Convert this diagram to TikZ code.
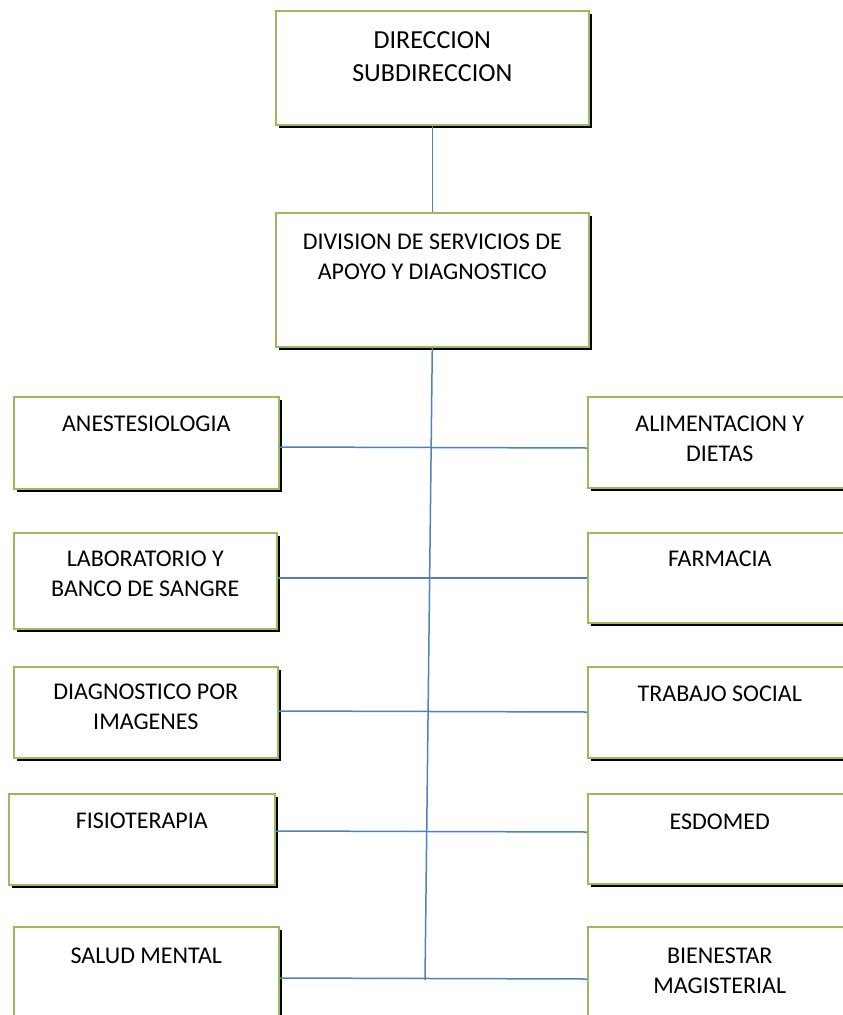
\documentclass[tikz,border=0pt]{standalone}
\usepackage{fontspec}
\setmainfont{Carlito}
\usetikzlibrary{shadows}
\definecolor{boxgreen}{HTML}{9BBB59}
\definecolor{linkblue}{HTML}{4F81BD}

% box contents: width, height, gap above first line, text
\newcommand{\cell}[4]{\parbox[c][#2pt][t]{#1pt}{\centering\vspace*{#3pt}#4\par}}

\tikzset{
  unitbox/.style={draw=boxgreen, line width=1.6pt, fill=white, inner sep=0pt,
    anchor=north west, font=\fontsize{24}{30}\selectfont,
    drop shadow={shadow xshift=3pt, shadow yshift=-3pt, opacity=1, fill=black}},
  link/.style={draw=linkblue, line width=1.5pt}
}

\begin{document}
\begin{tikzpicture}[x=1pt, y=-1pt]
  \useasboundingbox (0,0) rectangle (843,1015);
  \clip (0,0) rectangle (843,1015);

  % head
  \node[unitbox, font=\fontsize{26}{33}\selectfont] (dir) at (275,10) {\cell{313}{114}{21}{DIRECCION\\SUBDIRECCION}};
  \node[unitbox] (div) at (275,212) {\cell{313}{134}{21}{DIVISION DE SERVICIOS DE\\APOYO Y DIAGNOSTICO}};

  % left column
  \node[unitbox] (anest) at (13,396) {\cell{265}{92}{19}{ANESTESIOLOGIA}};
  \node[unitbox] (lab) at (13,532) {\cell{263}{96}{18}{LABORATORIO Y\\BANCO DE SANGRE}};
  \node[unitbox] (img) at (13,666) {\cell{264}{91}{17}{DIAGNOSTICO POR\\IMAGENES}};
  \node[unitbox] (fisio) at (8,793) {\cell{266}{91}{19}{FISIOTERAPIA}};
  \node[unitbox] (salud) at (13,926) {\cell{265}{92}{21}{SALUD MENTAL}};

  % right column
  \node[unitbox] (alim) at (587,396) {\cell{264}{91}{19}{ALIMENTACION Y\\DIETAS}};
  \node[unitbox] (farm) at (587,532) {\cell{264}{90}{18}{FARMACIA}};
  \node[unitbox] (social) at (587,666) {\cell{264}{91}{19}{TRABAJO SOCIAL}};
  \node[unitbox] (esdomed) at (587,793) {\cell{264}{90}{20}{ESDOMED}};
  \node[unitbox] (bien) at (587,926) {\cell{264}{92}{21}{BIENESTAR\\MAGISTERIAL}};

  % connectors
  \coordinate (base) at (425,980);
  \draw[link] (dir.south) -- (div.north);
  \draw[link] (div.south) -- (base);
  \draw[link] (anest.east |- 0,447) -- (alim.west |- 0,448);
  \draw[link] (lab.east |- 0,578) -- (farm.west |- 0,578);
  \draw[link] (img.east |- 0,711) -- (social.west |- 0,712);
  \draw[link] (fisio.east |- 0,831) -- (esdomed.west |- 0,832);
  \draw[link] (salud.east |- 0,978) -- (bien.west |- 0,979);
\end{tikzpicture}
\end{document}
